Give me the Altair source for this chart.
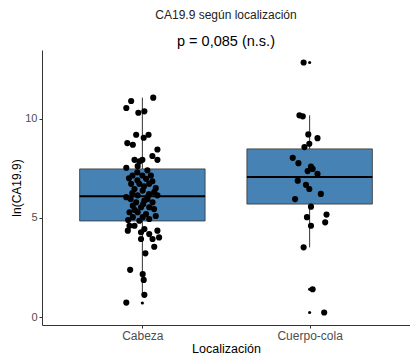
import altair as alt
import pandas as pd

# ---- data ----
categories = ["Cabeza", "Cuerpo-cola"]
positions = [1, 2]

# box summary
q1 = [4.85, 5.70]
median = [6.10, 7.07]
q3 = [7.47, 8.48]
whisker_low = [1.13, 3.52]
whisker_high = [11.06, 10.17]

# outliers drawn by the boxplot
outlier_cat = ["Cabeza", "Cuerpo-cola", "Cuerpo-cola", "Cuerpo-cola"]
outlier_val = [0.72, 12.83, 1.41, 0.24]

# jittered observations: value and horizontal jitter
cabeza_val = [11.06, 10.89, 10.54, 10.30, 10.37, 9.19, 9.19, 9.04, 8.77, 8.69,
              8.45, 8.12, 7.93, 7.93, 7.85, 7.93, 7.53, 7.61,
              7.14, 7.14, 7.14, 6.97, 6.72, 6.72, 6.72, 6.46, 6.38, 6.30,
              6.05, 6.14, 6.05, 6.14, 5.79, 5.88, 5.79, 5.62, 5.54, 5.54,
              5.29, 5.29, 5.20, 5.04, 5.04, 4.95, 4.86, 4.61, 4.61,
              7.30, 7.00, 6.85, 6.60, 6.50, 6.25, 6.20, 5.95, 5.95, 5.70,
              5.45, 5.40, 5.10, 4.90, 7.40, 6.90,
              4.36, 4.28, 4.44, 4.19, 4.36, 4.02, 3.94, 3.94, 3.55, 3.22,
              2.39, 2.17, 1.88, 1.13, 0.74]
cabeza_jit = [0.065, -0.067, -0.096, -0.024, 0.012, -0.037, 0.037, 0.008, -0.090, -0.057,
              0.090, 0.060, 0.090, -0.047, -0.018, 0.000, -0.096, -0.028,
              -0.059, 0.000, 0.051, 0.022, -0.067, -0.018, 0.041, -0.047, 0.002, 0.071,
              -0.096, -0.028, 0.031, 0.090, -0.037, 0.012, 0.061, -0.057, -0.008, 0.041,
              -0.077, -0.028, 0.022, -0.057, 0.002, 0.041, -0.018, -0.077, -0.047,
              -0.030, -0.080, 0.060, 0.010, 0.080, -0.060, 0.040, -0.070, 0.030, 0.005,
              0.070, -0.045, 0.080, -0.085, 0.030, -0.030,
              -0.087, -0.008, 0.012, 0.041, 0.090, 0.100, 0.061, -0.008, 0.071, 0.018,
              -0.073, 0.002, 0.008, 0.012, -0.096]

cola_val = [12.83, 10.17, 10.12, 9.21, 9.02, 8.74, 8.57, 8.03, 7.76, 7.59,
            7.47, 7.36, 7.22, 6.88, 6.67, 6.46, 6.21, 5.95, 5.57, 5.04,
            5.17, 4.61, 4.78, 3.52, 1.41, 0.24]
cola_jit = [-0.036, -0.061, -0.041, -0.008, 0.047, -0.002, -0.031, -0.101, -0.067, 0.008,
            0.018, -0.012, 0.047, -0.071, -0.022, -0.002, 0.067, -0.087, 0.008, -0.016,
            0.101, 0.008, 0.093, -0.036, 0.018, 0.087]

y_ticks = [0, 5, 10]

# ---- tables ----
pos_of = dict(zip(categories, positions))
box_df = pd.DataFrame({
    "cat": categories, "pos": positions,
    "q1": q1, "med": median, "q3": q3, "wlo": whisker_low, "whi": whisker_high,
})
box_df["xlo"] = box_df["pos"] - 0.375
box_df["xhi"] = box_df["pos"] + 0.375

out_df = pd.DataFrame({"cat": outlier_cat, "val": outlier_val})
out_df["pos"] = out_df["cat"].map(pos_of)

pts_df = pd.DataFrame({
    "cat": ["Cabeza"] * len(cabeza_val) + ["Cuerpo-cola"] * len(cola_val),
    "val": cabeza_val + cola_val,
    "jit": cabeza_jit + cola_jit,
})
pts_df["xp"] = pts_df["cat"].map(pos_of) + pts_df["jit"]

label_expr = " : ".join(
    [f"datum.value == {p} ? '{c}'" for p, c in zip(positions[:-1], categories[:-1])]
    + [f"'{categories[-1]}'"]
)

xscale = alt.Scale(domain=[0.4, 2.6], nice=False, zero=False)
yscale = alt.Scale(domain=[-0.39, 13.46], nice=False, zero=False)
xaxis = alt.Axis(values=positions, labelExpr=label_expr, title="Localización", grid=False)
yaxis = alt.Axis(values=y_ticks, title="ln(CA19.9)", grid=False)

base_box = alt.Chart(box_df)

whisk_up = base_box.mark_rule(color="#333333", strokeWidth=1).encode(
    x=alt.X("pos:Q", scale=xscale, axis=xaxis),
    y=alt.Y("q3:Q", scale=yscale, axis=yaxis),
    y2="whi:Q",
)
whisk_lo = base_box.mark_rule(color="#333333", strokeWidth=1).encode(
    x=alt.X("pos:Q", scale=xscale, axis=xaxis),
    y=alt.Y("wlo:Q", scale=yscale, axis=yaxis),
    y2="q1:Q",
)
box = base_box.mark_rect(fill="#4682B4", stroke="#333333", strokeWidth=0.8).encode(
    x=alt.X("xlo:Q", scale=xscale, axis=xaxis),
    x2="xhi:Q",
    y=alt.Y("q1:Q", scale=yscale, axis=yaxis),
    y2="q3:Q",
)
med = base_box.mark_rule(color="black", strokeWidth=2).encode(
    x=alt.X("xlo:Q", scale=xscale, axis=xaxis),
    x2="xhi:Q",
    y=alt.Y("med:Q", scale=yscale, axis=yaxis),
)
outl = alt.Chart(out_df).mark_circle(color="black", opacity=1, size=10).encode(
    x=alt.X("pos:Q", scale=xscale, axis=xaxis),
    y=alt.Y("val:Q", scale=yscale, axis=yaxis),
)
pts = alt.Chart(pts_df).mark_circle(color="black", opacity=1, size=38).encode(
    x=alt.X("xp:Q", scale=xscale, axis=xaxis),
    y=alt.Y("val:Q", scale=yscale, axis=yaxis),
)

chart = alt.layer(whisk_up, whisk_lo, box, med, outl, pts).properties(
    width=368,
    height=275,
    autosize=alt.AutoSizeParams(type="none"),
    padding={"left": 42, "top": 50, "right": 0, "bottom": 31},
    title=alt.TitleParams(
        text="CA19.9 según localización",
        subtitle="p = 0,085 (n.s.)",
        font="Liberation Sans",
        subtitleFont="Liberation Sans",
        fontSize=12,
        fontWeight="normal",
        color="#222222",
        subtitleFontSize=14.5,
        subtitleColor="black",
        anchor="middle",
        frame="group",
        offset=1,
        subtitlePadding=13,
    ),
).configure_view(stroke=None).configure_axis(
    domainColor="#333333",
    tickColor="#333333",
    tickSize=3,
    labelPadding=2,
    labelColor="#4D4D4D",
    labelFont="Liberation Sans",
    titleFont="Liberation Sans",
    titleFontWeight="normal",
    titleColor="black",
    titleFontSize=12,
).configure_axisX(
    labelFontSize=12,
    titlePadding=1,
    titleFontSize=12.5,
).configure_axisY(
    labelFontSize=11,
    titlePadding=1,
)

chart.save("out.html", embed_options={"renderer": "svg", "actions": False})
